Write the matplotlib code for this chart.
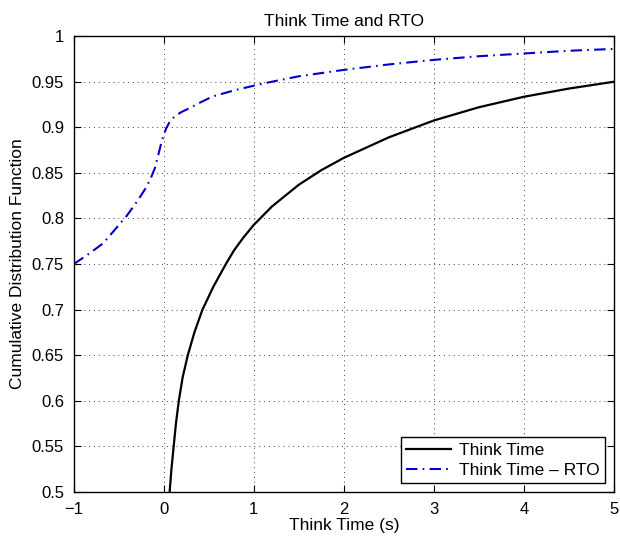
import matplotlib
matplotlib.use('Agg')
import matplotlib.pyplot as plt

plt.rcParams['font.family'] = ['Liberation Sans', 'DejaVu Sans']

# Think Time CDF
think_x = [0.065, 0.085, 0.11, 0.135, 0.167, 0.21, 0.267, 0.34, 0.43, 0.55, 0.6,
           0.69, 0.78, 0.88, 1.0, 1.2, 1.5, 1.75, 2.0, 2.5, 3.0, 3.5, 4.0, 4.5, 5.0]
think_y = [0.5, 0.525, 0.55, 0.575, 0.6, 0.626, 0.65, 0.675, 0.7, 0.725, 0.734,
           0.75, 0.765, 0.7785, 0.793, 0.813, 0.837, 0.853, 0.8665, 0.889, 0.9075,
           0.922, 0.9335, 0.9425, 0.95]

# Think Time - RTO CDF
rto_x = [-1.0, -0.85, -0.674, -0.55, -0.415, -0.33, -0.248, -0.19, -0.137, -0.1,
         -0.063, -0.03, 0.0, 0.03, 0.06, 0.1, 0.15, 0.2, 0.286, 0.4, 0.545, 0.8,
         1.1, 1.5, 2.0, 2.5, 3.0, 3.5, 4.0, 4.5, 5.0]
rto_y = [0.75, 0.76, 0.7727, 0.787, 0.8025, 0.814, 0.826, 0.835, 0.846, 0.855,
         0.869, 0.882, 0.892, 0.8995, 0.905, 0.910, 0.914, 0.917, 0.921, 0.927,
         0.934, 0.941, 0.948, 0.956, 0.963, 0.969, 0.974, 0.978, 0.981, 0.984, 0.986]

x_ticks = [-1, 0, 1, 2, 3, 4, 5]
x_ticklabels = ['\u22121', '0', '1', '2', '3', '4', '5']
y_ticks = [0.5, 0.55, 0.6, 0.65, 0.7, 0.75, 0.8, 0.85, 0.9, 0.95, 1]
y_ticklabels = ['0.5', '0.55', '0.6', '0.65', '0.7', '0.75', '0.8', '0.85', '0.9', '0.95', '1']

fig = plt.figure(figsize=(6.2, 5.4), dpi=100)
ax = fig.add_axes([0.119, 0.089, 0.871, 0.844])

ax.plot(think_x, think_y, color='k', linewidth=1.6, label='Think Time',
        solid_joinstyle='round')
ax.plot(rto_x, rto_y, color='#0000cc', linewidth=1.5, linestyle=(0, (5.5, 2.5, 0.8, 2.5)),
        label='Think Time \u2013 RTO')

ax.set_xlim(-1, 5)
ax.set_ylim(0.5, 1)
ax.set_xticks(x_ticks)
ax.set_xticklabels(x_ticklabels)
ax.set_yticks(y_ticks)
ax.set_yticklabels(y_ticklabels)
ax.tick_params(direction='in', length=5, width=0.8, labelsize=12, top=True, right=True, pad=7)
ax.grid(True, color='0.25', linestyle=(0, (1, 4)), linewidth=0.7)
for s in ax.spines.values():
    s.set_linewidth(1.0)

ax.set_xlabel('Think Time (s)', fontsize=12.5, labelpad=1)
ax.set_ylabel('Cumulative Distribution Function', fontsize=12.5, labelpad=5)
ax.set_title('Think Time and RTO', fontsize=12.5, pad=7)

leg = ax.legend(loc='lower right', fontsize=12.5, fancybox=False, framealpha=1,
                edgecolor='k', borderaxespad=0.5, handlelength=2.6,
                borderpad=0.3, labelspacing=0.3, handletextpad=0.45)
leg.get_frame().set_linewidth(1.0)

plt.savefig('out.png', dpi=100)
plt.close(fig)
